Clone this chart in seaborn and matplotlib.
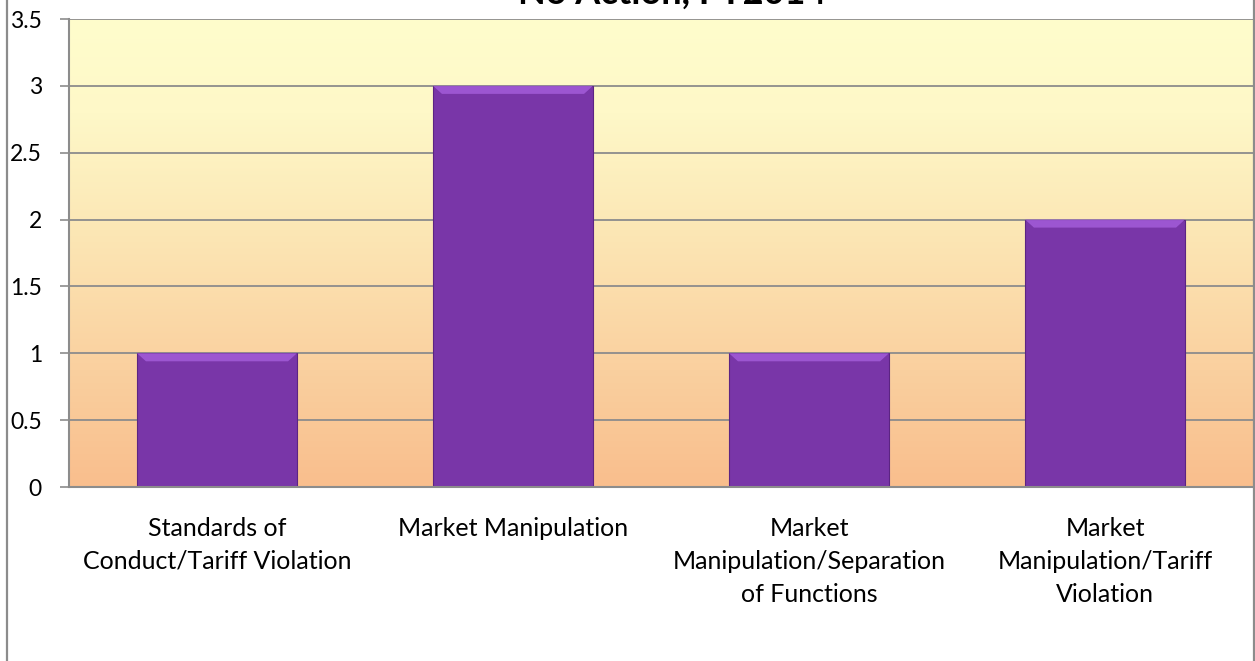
import numpy as np
import pandas as pd
import matplotlib
matplotlib.use("Agg")
import matplotlib.pyplot as plt
from matplotlib.colors import LinearSegmentedColormap
from matplotlib.patches import Rectangle, Polygon
import seaborn as sns

# Violation categories and number of matters closed with no action
categories = [
    "Standards of\nConduct/Tariff Violation",
    "Market Manipulation",
    "Market\nManipulation/Separation\nof Functions",
    "Market\nManipulation/Tariff\nViolation",
]
counts = [1, 3, 1, 2]
y_ticks = [0, 0.5, 1, 1.5, 2, 2.5, 3, 3.5]
y_tick_labels = ["0", "0.5", "1", "1.5", "2", "2.5", "3", "3.5"]
title = "No Action, FY2014"

sns.set_theme(style="white")
plt.rcParams["font.family"] = ["Lato", "DejaVu Sans"]

df = pd.DataFrame({"category": categories, "count": counts})

W, H = 1255, 661
fig = plt.figure(figsize=(W / 100, H / 100), dpi=100)
ax = fig.add_axes([69 / W, 1 - 487 / H, 1184 / W, 468 / H])

# Plot-area fill: pale yellow at the top fading to peach at the bottom
grad_cmap = LinearSegmentedColormap.from_list(
    "plot_bg",
    [(0.0, "#F9BE8D"), (0.25, "#FAD09F"), (0.55, "#FCE7B5"),
     (0.8, "#FEF8C8"), (1.0, "#FFFDCC")],
)
grad = np.linspace(0, 1, 256).reshape(-1, 1)
ax.imshow(grad, cmap=grad_cmap, origin="lower", aspect="auto",
          extent=[-0.5, 3.5, 0, 3.5], zorder=0)

sns.barplot(data=df, x="category", y="count", color="#7936A8",
            width=0.54, saturation=1, edgecolor="#5C2483", linewidth=0.8,
            ax=ax, zorder=3)

# Bevelled top edge on each bar
for patch in list(ax.patches):
    x0, w, h = patch.get_x(), patch.get_width(), patch.get_height()
    dx, dy = 0.03, 0.06
    ax.add_patch(Polygon([(x0, h), (x0 + w, h), (x0 + w - dx, h - dy),
                          (x0 + dx, h - dy)], closed=True,
                         facecolor="#A35CD9", edgecolor="none",
                         alpha=0.85, zorder=4))

ax.set_xlim(-0.5, 3.5)
ax.set_ylim(0, 3.5)
ax.set_xlabel("")
ax.set_ylabel("")

ax.set_yticks(y_ticks)
ax.set_yticklabels(y_tick_labels)
ax.yaxis.grid(True, color="#8C8C8C", linewidth=1.3, zorder=1)
ax.set_axisbelow(False)
for line in ax.get_ygridlines():
    line.set_zorder(1)

ax.set_xticks(range(len(categories)))
ax.set_xticklabels(categories, linespacing=1.53)
ax.set_xticks(np.arange(-0.5, len(categories), 1.0), minor=True)
ax.tick_params(axis="x", which="major", length=0, pad=21.5,
               labelsize=18, labelcolor="black")
ax.tick_params(axis="x", which="minor", length=6, width=1.2,
               color="#8C8C8C", direction="out")
ax.tick_params(axis="y", length=6.5, width=1.2, color="#8C8C8C",
               direction="out", pad=13, labelsize=16.5, labelcolor="black",
               left=True)

for side in ("top", "right"):
    ax.spines[side].set_visible(False)
for side in ("left", "bottom"):
    ax.spines[side].set_color("#8C8C8C")
    ax.spines[side].set_linewidth(1.5)
    ax.spines[side].set_zorder(5)

# Chart-area border
fig.patches.append(Rectangle((6.5 / W, -0.05), (1253.5 - 6.5) / W, 1.2,
                             transform=fig.transFigure, fill=False,
                             edgecolor="#8C8C8C", linewidth=1.6))

fig.text(672 / W, 1 - 3.5 / H, title, ha="center", va="baseline",
         fontsize=26, fontweight="bold", color="black")

fig.savefig("out.png", dpi=100)
